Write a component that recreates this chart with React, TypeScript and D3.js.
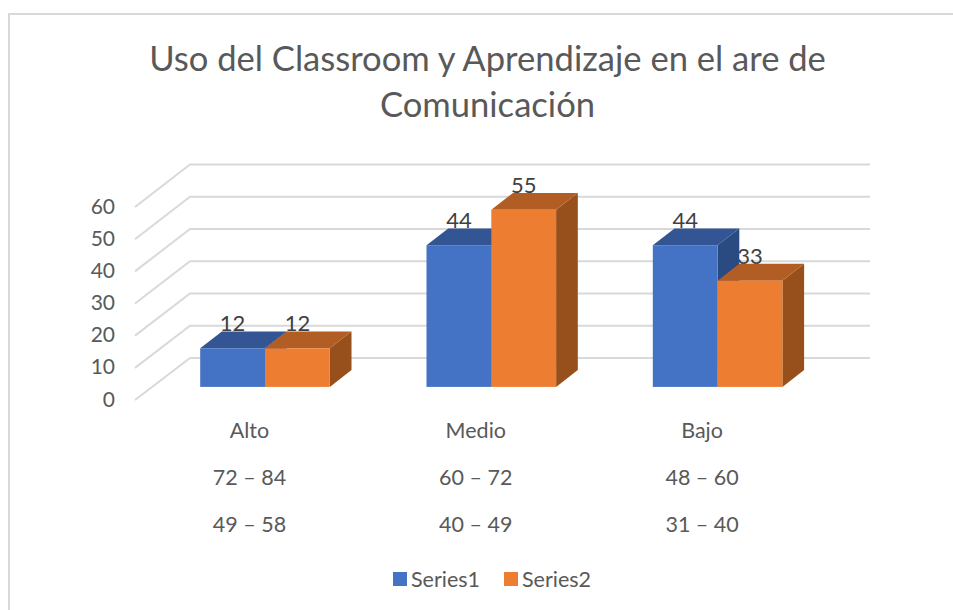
import React from "react";
import * as d3 from "d3";

const categories = ["Alto", "Medio", "Bajo"];
const rangeRow1 = ["72 – 84", "60 – 72", "48 – 60"];
const rangeRow2 = ["49 – 58", "40 – 49", "31 – 40"];
const seriesNames = ["Series1", "Series2"];
const series1 = [12, 44, 44];
const series2 = [12, 55, 33];
const ticks = [0, 10, 20, 30, 40, 50, 60];
const titleLines = ["Uso del Classroom y Aprendizaje en el are de", "Comunicación"];

const FONT = "Lato, 'Open Sans', sans-serif";
const TEXT = "#595959";
const GRID = "#D9D9D9";
const faces = [
  { front: "#4472C4", top: "#335593", side: "#2A4A82" },
  { front: "#ED7D31", top: "#B25D24", side: "#974F1C" },
];

export default function App() {
  const yFront = d3.scaleLinear().domain([0, 60]).range([400, 207]);
  const yBack = d3.scaleLinear().domain([0, 60]).range([358, 164.5]);
  const yBar = d3.scaleLinear().domain([0, 60]).range([386.9, 193.7]);
  const groupX = d3.scaleBand().domain(categories).range([151.85, 830.75]);
  const barW = 64.8;
  const dx = 21.7;
  const dy = 16.8;
  const xBack0 = 190, xBack1 = 870, xFront = 135;
  const barX = (cat: string, s: number) => groupX(cat)! + (groupX.bandwidth() - 2 * barW) / 2 + s * barW;
  const all = [series1, series2];
  const line = d3.line();

  return (
    <svg width={953} height={610} style={{ position: "absolute", left: 0, top: 0, background: "#fff" }} fontFamily={FONT}>
      <path d="M953,14 H9 V610" fill="none" stroke={GRID} strokeWidth={2} />
      {titleLines.map((t, i) => (
        <text key={t} x={487.5} y={71 + i * 46} textAnchor="middle" fontSize={34.6} fill={TEXT}>{t}</text>
      ))}
      {ticks.map((v) => (
        <g key={v}>
          <path
            d={line([[xFront, yFront(v)], [xBack0, yBack(v)], [xBack1, yBack(v)]])!}
            fill="none" stroke={GRID} strokeWidth={2}
          />
          <text x={115} y={yFront(v) + 6.5} textAnchor="end" fontSize={21} fill={TEXT}>{v}</text>
        </g>
      ))}
      {all.map((vals, s) =>
        vals.map((v, i) => (
          <text key={`l${s}${i}`} x={barX(categories[i], s) + barW / 2} y={yBar(v) - dy} textAnchor="middle" fontSize={22} fill="#404040">{v}</text>
        ))
      )}
      {categories.map((c) =>
        all.map((vals, s) => {
          const v = vals[categories.indexOf(c)];
          const x = barX(c, s);
          const y = yBar(v);
          const y0 = yBar(0);
          const f = faces[s];
          return (
            <g key={c + s}>
              <path d={line([[x + barW, y], [x + barW + dx, y - dy], [x + barW + dx, y0 - dy], [x + barW, y0]])! + "Z"} fill={f.side} />
              <path d={line([[x, y], [x + dx, y - dy], [x + barW + dx, y - dy], [x + barW, y]])! + "Z"} fill={f.top} />
              <rect x={x} y={y} width={barW} height={y0 - y} fill={f.front} />
            </g>
          );
        })
      )}
      {categories.map((c, i) => {
        const cx = groupX(c)! + groupX.bandwidth() / 2 - 15.5;
        return (
          <g key={c} textAnchor="middle" fontSize={21.5} fill={TEXT}>
            <text x={cx} y={438}>{c}</text>
            <text x={cx} y={484.5}>{rangeRow1[i]}</text>
            <text x={cx} y={531.5}>{rangeRow2[i]}</text>
          </g>
        );
      })}
      {seriesNames.map((n, i) => {
        const x = 393 + i * 111;
        return (
          <g key={n}>
            <rect x={x} y={572} width={14} height={14} fill={faces[i].front} />
            <text x={x + 18} y={586.5} fontSize={21.5} fill={TEXT}>{n}</text>
          </g>
        );
      })}
    </svg>
  );
}
